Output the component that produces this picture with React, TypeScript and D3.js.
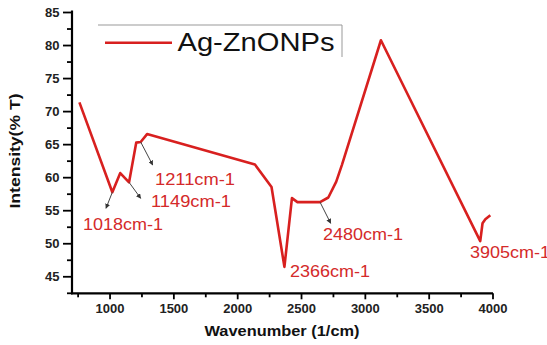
import { useMemo } from "react";
import * as d3 from "d3";

// FTIR spectrum values
const wavenumbers = [760, 1018, 1080, 1149, 1205, 1240, 1290, 2135, 2265, 2366, 2425, 2468, 2645, 2710, 2772, 2816, 3122, 3900, 3918, 3940, 3979];
const transmittance = [71.4, 57.8, 60.7, 59.3, 65.3, 65.4, 66.6, 62.0, 58.6, 46.5, 56.9, 56.3, 56.3, 57.0, 59.4, 61.9, 80.8, 50.4, 53.1, 53.7, 54.3];

const xTicks = [1000, 1500, 2000, 2500, 3000, 3500, 4000];
const yTicks = [45, 50, 55, 60, 65, 70, 75, 80, 85];

const seriesName = "Ag-ZnONPs";
// peak labels and where they sit in the picture
const peakLabels = [
  { text: "1211cm-1", x: 155, y: 185 },
  { text: "1149cm-1", x: 151, y: 207 },
  { text: "1018cm-1", x: 83, y: 230 },
  { text: "2480cm-1", x: 323, y: 240 },
  { text: "2366cm-1", x: 290, y: 277 },
  { text: "3905cm-1", x: 470, y: 258 },
];
// little arrows pointing from the curve to the labels
const arrows = [
  { from: [1240, 65.4], to: [152.7, 165] },
  { from: [1149, 59.3], to: [140.7, 198.3] },
  { from: [1018, 57.8], to: [106, 208.3] },
  { from: [2645, 56.3], to: [330.7, 223.3] },
];

const W = 547;
const H = 345;
const MARGIN = { top: 12.5, right: 54, bottom: 52, left: 72 };
const FONT = "'Liberation Sans', Arial, sans-serif";
const RED = "#d8201f";

export default function App() {
  const xScale = useMemo(
    () => d3.scaleLinear().domain([702, 4000]).range([MARGIN.left, W - MARGIN.right]),
    []
  );
  const yScale = useMemo(
    () => d3.scaleLinear().domain([42.5, 85]).range([H - MARGIN.bottom + 0.3, MARGIN.top]),
    []
  );

  const points = wavenumbers.map((w, i) => [w, transmittance[i]] as [number, number]);
  const path = d3
    .line<[number, number]>()
    .x((d) => xScale(d[0]))
    .y((d) => yScale(d[1]))(points);

  const x0 = xScale.range()[0];
  const x1 = xScale.range()[1];
  const yBottom = yScale(42.5);
  const yTop = yScale(85) - 2;

  const xMinor = xTicks.map((t) => t - 250).filter((t) => t >= 702);
  const yMinor = yTicks.map((t) => t - 2.5).filter((t) => t >= 42.5);

  return (
    <div style={{ position: "absolute", left: 0, top: 0 }}>
      <svg width={W} height={H} style={{ display: "block", background: "#fff" }}>
        <defs>
          <marker id="arr" viewBox="0 0 10 10" refX="9" refY="5" markerWidth="5" markerHeight="5" orient="auto">
            <path d="M0,0 L10,5 L0,10 z" fill="#333" />
          </marker>
        </defs>

        {/* legend box (top and right edges only) */}
        <path d="M98,25 H342 V57" fill="none" stroke="#999" strokeWidth={1} />
        <line x1={105} x2={172} y1={42.7} y2={42.7} stroke={RED} strokeWidth={2.5} />
        <text x={177.5} y={50.5} fontFamily={FONT} fontSize={25} fill="#111" textLength={157} lengthAdjust="spacingAndGlyphs">
          {seriesName}
        </text>

        {/* axes */}
        <line x1={x0} x2={x0} y1={yTop} y2={yBottom + 1} stroke="#000" strokeWidth={2.2} />
        <line x1={x0 - 1} x2={x1} y1={yBottom} y2={yBottom} stroke="#000" strokeWidth={2.2} />

        {yTicks.map((t) => (
          <g key={"y" + t}>
            <line x1={x0 - 9} x2={x0} y1={yScale(t)} y2={yScale(t)} stroke="#000" strokeWidth={1.8} />
            <text
              x={59.5}
              y={yScale(t)}
              dy="0.36em"
              textAnchor="end"
              fontFamily={FONT}
              fontWeight="bold"
              fontSize={13}
              fill="#222"
            >
              {t}
            </text>
          </g>
        ))}
        {yMinor.map((t) => (
          <line key={"ym" + t} x1={x0 - 5} x2={x0} y1={yScale(t)} y2={yScale(t)} stroke="#000" strokeWidth={1.8} />
        ))}

        {xTicks.map((t) => (
          <g key={"x" + t}>
            <line x1={xScale(t)} x2={xScale(t)} y1={yBottom} y2={yBottom + 6} stroke="#000" strokeWidth={1.8} />
            <text
              x={xScale(t)}
              y={313}
              textAnchor="middle"
              fontFamily={FONT}
              fontWeight="bold"
              fontSize={13}
              fill="#222"
            >
              {t}
            </text>
          </g>
        ))}
        {xMinor.map((t) => (
          <line key={"xm" + t} x1={xScale(t)} x2={xScale(t)} y1={yBottom} y2={yBottom + 4} stroke="#000" strokeWidth={1.8} />
        ))}

        {/* axis titles */}
        <text
          x={282}
          y={336}
          textAnchor="middle"
          fontFamily={FONT}
          fontWeight="bold"
          fontSize={15}
          fill="#111"
          textLength={155}
          lengthAdjust="spacingAndGlyphs"
        >
          Wavenumber (1/cm)
        </text>
        <text
          transform="translate(20,151) rotate(-90)"
          textAnchor="middle"
          fontFamily={FONT}
          fontWeight="bold"
          fontSize={15}
          fill="#111"
          textLength={115}
          lengthAdjust="spacingAndGlyphs"
        >
          Intensity(% T)
        </text>

        {/* spectrum */}
        <path d={path ?? ""} fill="none" stroke={RED} strokeWidth={2.6} strokeLinejoin="round" />

        {/* arrows */}
        {arrows.map((a, i) => (
          <line
            key={"a" + i}
            x1={xScale(a.from[0])}
            y1={yScale(a.from[1])}
            x2={a.to[0]}
            y2={a.to[1]}
            stroke="#444"
            strokeWidth={1}
            markerEnd="url(#arr)"
          />
        ))}

        {/* peak labels */}
        {peakLabels.map((p) => (
          <text
            key={p.text}
            x={p.x}
            y={p.y}
            fontFamily={FONT}
            fontSize={16}
            fill="#d42a2a"
            textLength={80}
            lengthAdjust="spacingAndGlyphs"
          >
            {p.text}
          </text>
        ))}
      </svg>
    </div>
  );
}
